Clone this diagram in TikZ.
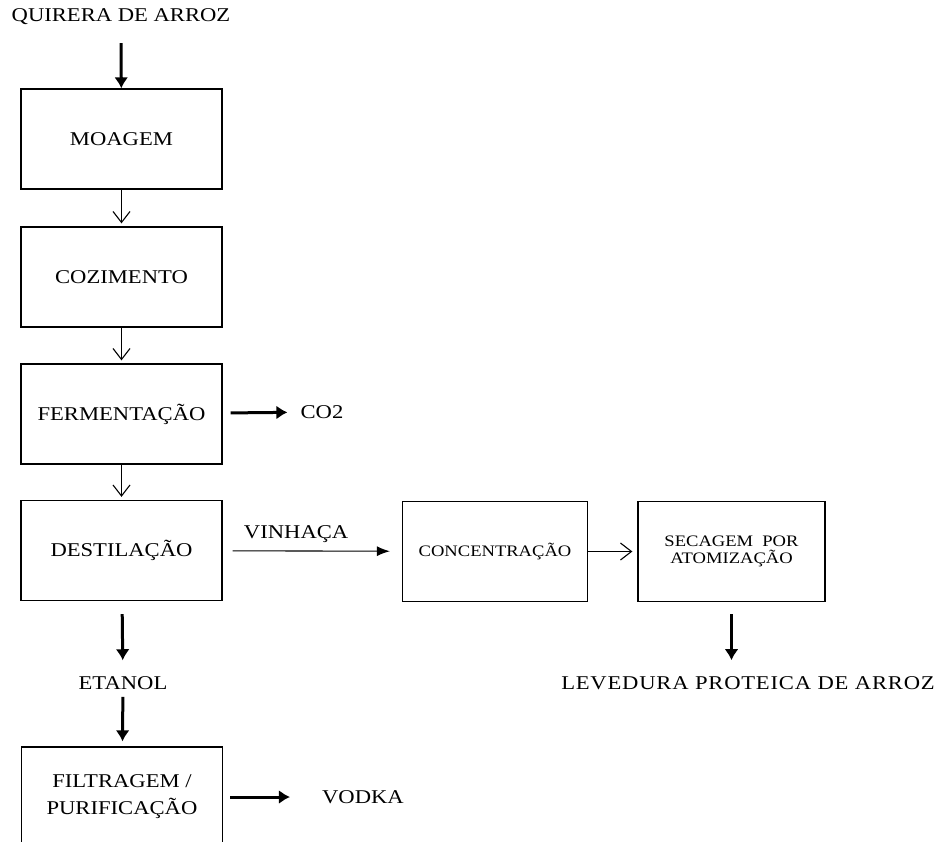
\documentclass[tikz,border=0pt]{standalone}
\usepackage{fontspec}
\setmainfont[FakeStretch=1.16]{Liberation Serif}
\usepackage{tikz}
\usetikzlibrary{arrows.meta}

\begin{document}
\begin{tikzpicture}[x=1pt,y=-1pt,
	every node/.style={font=\fontsize{19.5}{27}\selectfont,inner sep=0pt},
	box/.style={draw,line width=1.3pt,minimum width=201pt,minimum height=100pt,align=center},
	smallbox/.style={box,minimum width=185pt,font=\fontsize{16}{17}\selectfont},
	fat/.style={line width=3pt,-{Latex[length=11pt,width=14pt]}},
	slim/.style={line width=1.1pt,-{Straight Barb[length=11pt,width=17pt]},shorten >=3pt},
	flow/.style={line width=1.1pt,-{Latex[length=13pt,width=10pt]}}]
\useasboundingbox (0,0) rectangle (941,841);
\clip (0,0) rectangle (941,841);
\node (quir) at (121,17) {QUIRERA DE ARROZ};
\node[box] (moag) at (121.5,139) {MOAGEM};
\node[box] (coz) at (121.5,277) {COZIMENTO};
\node[box] (ferm) at (121.5,414) {FERMENTAÇÃO};
\node[box] (dest) at (121.5,550.5) {DESTILAÇÃO};
\node[box] (filt) at (122,797) {FILTRAGEM /\\PURIFICAÇÃO};
\node[smallbox] (conc) at (495,551.5) {CONCENTRAÇÃO};
\node[smallbox,minimum width=187pt] (sec) at (731.5,551.5) {SECAGEM~~POR\\ATOMIZAÇÃO};
\node (co) at (322,412) {CO2};
\node (etan) at (123,683) {ETANOL};
\node (vodk) at (363,797) {VODKA};
\node (lev) at (748,683) {\addfontfeature{LetterSpace=4}LEVEDURA PROTEICA DE ARROZ};
% ligacoes
\path
(quir)  edge[fat,shorten <=18pt] (moag)
(moag)  edge[slim] (coz)
(coz)   edge[slim] (ferm)
(ferm)  edge[slim] (dest)
(ferm)  edge[fat,shorten <=8pt,shorten >=13pt] (co)
(dest)  edge[flow,shorten <=10pt,shorten >=12pt] node[above=8pt,pos=0.41] {VINHAÇA} (conc)
(conc)  edge[slim,shorten >=5pt] (sec)
(dest)  edge[fat,shorten <=13pt,shorten >=16pt] (etan)
(etan)  edge[fat,shorten <=7pt,shorten >=5pt] (filt)
(filt)  edge[fat,shorten <=7pt,shorten >=32pt] (vodk)
(sec.south) edge[fat,shorten <=12pt,shorten >=16pt] (sec.south |- lev.north);
\end{tikzpicture}
\end{document}
